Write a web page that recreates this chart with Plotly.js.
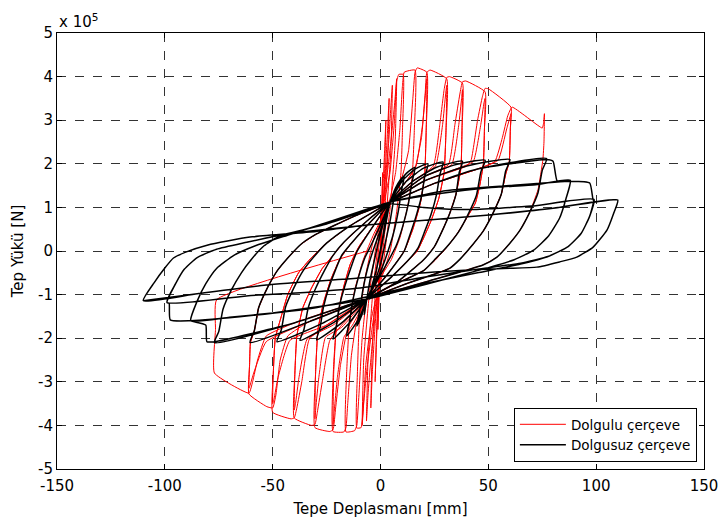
<!DOCTYPE html>
<html>
<head>
<meta charset="utf-8">
<script src="https://cdn.plot.ly/plotly-3.0.1.min.js"></script>
<style>html,body{margin:0;padding:0;background:#fff;}#chart{width:719px;height:521px;}</style>
</head>
<body>
<div id="chart"></div>
<script>
// Axis ticks
const xTickVals = [-150, -100, -50, 0, 50, 100, 150];
const xTickText = ["-150", "-100", "-50", "0", "50", "100", "150"];
const yTickVals = [-5, -4, -3, -2, -1, 0, 1, 2, 3, 4, 5];
const yTickText = ["-5", "-4", "-3", "-2", "-1", "0", "1", "2", "3", "4", "5"];

// Series names
const seriesNames = ["Dolgulu çerçeve", "Dolgusuz çerçeve"];

// Dolgulu (infilled) frame: [displacement mm, load x1e5 N]
const redPath = [
[0,0],[0.5,0.9],[1,1.8],
[0.4,0.5],[-0.4,-0.6],[-1.2,-1.8],
[-0.5,-0.6],[0.3,0.4],[1.2,1.5],[1.9,2.3],[2.5,3.0],
[1.8,1.6],[0.5,0.3],[-0.8,-0.9],[-1.8,-2.0],[-2.5,-3.0],
[-1.8,-1.8],[-0.6,-0.5],[0.6,0.5],[2,1.6],[3.2,2.7],[4,3.5],
[3.3,2.1],[1.5,0.5],[-0.5,-0.5],[-2.5,-1.7],[-3.8,-2.8],[-4.5,-3.6],
[-3.8,-2.2],[-2,-0.6],[0,0.5],[2,1.5],[3.8,2.5],[4.8,3.3],[5.5,3.8],
[4.8,2.3],[2.5,0.7],[0,-0.5],[-2.5,-1.5],[-4.5,-2.5],[-5.8,-3.3],[-6.5,-3.9],
[-5.8,-2.5],[-3.5,-0.9],[-0.5,0.4],[2.5,1.5],[5,2.6],[6.6,3.4],[7.5,3.95],
[6.8,2.5],[4.5,1.0],[1.5,-0.2],[-1.5,-1.0],[-4,-1.8],[-6.5,-2.8],[-7.8,-3.5],[-8.5,-4.0],
[-7.8,-2.5],[-5,-0.9],[-1.5,0.3],[2,1.2],[4.4,1.8],[6.5,3.0],[7.5,3.9],[8.5,4.05],[10.5,4.05],
[10.2,2.8],[9.5,1.8],[7.5,0.9],[4.5,0],[0,-0.7],[-4,-1.5],[-6.8,-2.6],[-8,-3.6],[-9,-4.05],[-11,-4.06],
[-10.7,-2.8],[-9.8,-1.6],[-7.5,-0.7],[-3,0.3],[2,0.9],[4.4,1.2],[7,1.8],[9,2.8],[10.2,3.8],[11,4.1],[16,4.15],
[15.7,2.8],[14.7,1.7],[12.5,1.0],[9,0.3],[5,-0.2],[-2,-0.75],[-6.3,-1.1],[-8.5,-2.0],[-10,-3.3],[-11,-4.0],[-12,-4.12],[-16,-4.15],
[-15.7,-2.8],[-14.5,-1.7],[-12,-0.9],[-8,-0.2],[-3,0.4],[4.4,1.12],[10,1.7],[13,2.3],[15,3.5],[16,4.1],[17,4.2],[21.5,4.1],
[21.2,2.8],[20.5,1.75],[18.5,1.1],[15,0.5],[11,0],[3,-0.55],[-6.3,-1.1],[-11,-1.6],[-13.5,-2.4],[-15.2,-3.5],[-16,-4.05],[-17,-4.15],[-22,-4.14],
[-21.7,-2.6],[-20.5,-1.75],[-18,-1.0],[-14,-0.3],[-10,0.1],[-3,0.6],[4.4,1.12],[12,1.6],[16.5,1.95],[19.5,2.9],[21,3.7],[21.5,3.95],
[21.2,2.8],[20.5,1.75],[18.5,1.1],[15,0.5],[11,0],[3,-0.55],[-6.3,-1.1],[-13,-1.7],[-17,-1.98],[-20,-2.9],[-21.5,-3.7],[-22,-3.98],
[-21.7,-2.8],[-20.5,-1.75],[-18,-1.0],[-14,-0.3],[-10,0.1],[-3,0.6],[4.4,1.12],[12,1.6],[16,1.9],[19,2.6],[20.7,3.6],[21.5,4.1],[23,4.15],[30.7,3.95],
[30.4,2.8],[29.5,1.8],[27,1.2],[23.5,0.7],[20,0.3],[17,0],[5,-0.6],[-6.3,-1.1],[-15,-1.75],[-18.5,-2.6],[-20.8,-3.6],[-22,-4.1],[-23.5,-4.14],[-30.4,-4.05],
[-30.1,-2.8],[-29,-1.8],[-26.5,-1.2],[-23,-0.65],[-19,-0.2],[-14,0.15],[-5,0.65],[4.4,1.12],[15,1.6],[25.5,1.95],[28.8,2.9],[30.2,3.6],[30.7,3.8],
[30.4,2.8],[29.5,1.8],[27,1.2],[23.5,0.7],[20,0.3],[17,0],[5,-0.6],[-6.3,-1.1],[-18,-1.75],[-25.5,-1.98],[-28.6,-2.9],[-30,-3.6],[-30.4,-3.85],
[-30.1,-2.8],[-29,-1.8],[-26.5,-1.2],[-23,-0.65],[-19,-0.2],[-14,0.15],[-5,0.65],[4.4,1.12],[15,1.6],[24.5,1.95],[27.5,2.9],[29.5,3.7],[30.7,3.98],[32,4.0],[38,3.85],
[37.8,2.8],[37.3,1.9],[35,1.3],[32,0.85],[28.5,0.45],[25,0.1],[20,-0.2],[8,-0.7],[-6.3,-1.1],[-18,-1.7],[-23.5,-2.05],[-27,-3.0],[-29.3,-3.7],[-30.4,-3.98],[-32,-4.0],[-40,-3.83],
[-39.7,-2.8],[-38.8,-1.95],[-36,-1.3],[-32,-0.85],[-27,-0.4],[-22,-0.1],[-17,0.2],[-6,0.7],[4.4,1.12],[20,1.7],[33,1.98],[36.3,2.9],[37.6,3.5],[38,3.7],
[37.8,2.8],[37.3,1.9],[35,1.3],[32,0.85],[28.5,0.45],[25,0.1],[20,-0.2],[8,-0.7],[-6.3,-1.1],[-22,-1.7],[-34,-2.02],[-37.8,-2.9],[-39.4,-3.5],[-40,-3.65],
[-39.7,-2.8],[-38.8,-1.95],[-36,-1.3],[-32,-0.85],[-27,-0.4],[-22,-0.1],[-17,0.2],[-6,0.7],[4.4,1.12],[20,1.7],[31.5,1.98],[34.5,2.9],[36.8,3.6],[38,3.88],[39.5,3.9],[48.5,3.65],
[48.2,2.8],[47.7,2.0],[46,1.5],[44,1.1],[40.5,0.8],[36,0.43],[31.5,0.13],[25.5,-0.2],[20,-0.45],[5,-0.8],[-6.3,-1.1],[-25,-1.7],[-33,-2.02],[-36.5,-3.0],[-38.8,-3.6],[-40,-3.83],[-41.5,-3.85],[-50,-3.7],
[-49.7,-2.8],[-48.8,-2.0],[-46,-1.5],[-43,-1.0],[-38,-0.5],[-32,-0.15],[-25,0.18],[-15,0.55],[4.4,1.12],[20,1.6],[36,1.9],[43,2.05],[46.5,2.9],[48,3.4],[48.5,3.5],
[48.2,2.8],[47.7,2.0],[46,1.5],[44,1.1],[40.5,0.8],[36,0.43],[31.5,0.13],[25.5,-0.2],[20,-0.45],[5,-0.8],[-6.3,-1.1],[-25,-1.7],[-42,-2.05],[-47.5,-2.9],[-49.4,-3.4],[-50,-3.5],
[-49.7,-2.8],[-48.8,-2.0],[-46,-1.5],[-43,-1.0],[-38,-0.5],[-32,-0.15],[-25,0.18],[-15,0.55],[4.4,1.12],[20,1.6],[40,1.95],[42,2.08],[45,3.0],[47.3,3.55],[48.5,3.73],[50,3.72],[60.5,3.3],
[60.2,2.8],[59.7,2.05],[58,1.75],[56,1.3],[52,0.85],[47.7,0.46],[43,0.16],[37,-0.18],[32,-0.4],[12,-0.75],[-6.3,-1.1],[-33,-1.62],[-43,-1.95],[-46.5,-2.5],[-48.5,-3.3],[-50,-3.6],[-52.7,-3.57],[-61,-3.28],
[-60.7,-2.6],[-60.3,-2.1],[-58.5,-1.83],[-56.5,-1.3],[-52.5,-0.85],[-48,-0.46],[-43,-0.16],[-37,0.15],[-30,0.38],[-12,0.8],[4.4,1.12],[25,1.55],[45,1.88],[54.5,2.08],[58.5,2.8],[60.2,3.1],[60.5,3.15],
[60.2,2.8],[59.7,2.05],[58,1.75],[56,1.3],[52,0.85],[47.7,0.46],[43,0.16],[37,-0.18],[32,-0.4],[12,-0.75],[-6.3,-1.1],[-33,-1.62],[-53,-2.08],[-58.8,-2.8],[-60.6,-3.1],[-61,-3.15],
[-60.7,-2.6],[-60.3,-2.1],[-58.5,-1.83],[-56.5,-1.3],[-52.5,-0.85],[-48,-0.46],[-43,-0.16],[-37,0.15],[-30,0.38],[-12,0.8],[4.4,1.12],[25,1.55],[45,1.88],[53,2.05],[56.5,2.6],[59,3.1],[61,3.3],[75,2.82],[75.6,2.93],[76,3.15],
[75.8,2.5],[75.3,2.1],[73,1.4],[69,0.87],[64.7,0.48],[60,0.18],[54,-0.14],[47.5,-0.32],[20,-0.72],[-6.3,-1.1],[-40,-1.65],[-53,-1.95],[-57,-2.5],[-59.3,-3.0],[-61,-3.26],[-77,-2.8],
[-76.5,-1.8],[-76,-1.12],[-6,0]
];

// Dolgusuz (bare) frame: [displacement mm, load x1e5 N]
const blackPath = [
[0,0],[2,0.6],[4.5,1.15],
[3.5,0.9],[2,0.5],[0,0],[-2,-0.45],[-4,-0.8],[-5,-1.1],
[-4,-0.85],[-2,-0.45],[0,0.05],[2,0.5],[4.4,1.12],[5.8,1.3],[7,1.45],
[6,1.15],[4.5,0.7],[2.5,0.25],[0,-0.3],[-3,-0.75],[-6.3,-1.1],[-7.5,-1.45],
[-6.5,-1.15],[-5,-0.7],[-3,-0.25],[-0.5,0.3],[2,0.75],[4.4,1.12],[7,1.45],[9,1.62],[11,1.72],
[9.8,1.4],[8.2,0.9],[6,0.4],[3.5,0],[1,-0.35],[-2,-0.7],[-6.3,-1.1],[-8.5,-1.45],[-11,-1.72],
[-9.8,-1.4],[-8.2,-0.9],[-6,-0.4],[-3.5,0],[-1,0.35],[2,0.75],[4.4,1.12],[8,1.5],[12,1.78],[16,1.92],
[14.7,1.6],[13,1.1],[10.5,0.6],[7.5,0.15],[5,-0.1],[0,-0.55],[-6.3,-1.1],[-10,-1.55],[-15.7,-1.95],
[-14.4,-1.62],[-12.7,-1.1],[-10.2,-0.6],[-7.2,-0.15],[-4.5,0.12],[0,0.6],[4.4,1.12],[10,1.6],[16,1.88],[22,2.0],
[20.5,1.7],[19,1.25],[16.5,0.8],[13.5,0.35],[11,0],[3,-0.55],[-6.3,-1.1],[-14,-1.62],[-22,-2.02],
[-20.5,-1.72],[-19,-1.25],[-16.5,-0.8],[-13.5,-0.35],[-11,-0.02],[-3,0.6],[4.4,1.12],[12,1.6],[20,1.9],[29,2.04],
[27.5,1.75],[26,1.3],[23.5,0.85],[20.5,0.45],[17.5,0.08],[14,-0.15],[5,-0.6],[-6.3,-1.1],[-18,-1.65],[-29.6,-2.04],
[-28,-1.75],[-26.5,-1.3],[-24,-0.85],[-21,-0.45],[-18,-0.1],[-14,0.15],[-5,0.65],[4.4,1.12],[15,1.6],[26,1.92],[38,2.06],
[36.5,1.8],[35,1.3],[32,0.85],[28.5,0.45],[25,0.1],[20,-0.2],[8,-0.7],[-6.3,-1.1],[-22,-1.65],[-37.3,-2.05],
[-35.5,-1.8],[-33.5,-1.3],[-30,-0.85],[-26,-0.45],[-22,-0.1],[-17,0.2],[-6,0.7],[4.4,1.12],[20,1.7],[34,1.97],[48.5,2.08],
[46.5,1.81],[44.5,1.28],[40.5,0.83],[36.2,0.44],[31.5,0.14],[25.5,-0.18],[20,-0.45],[5,-0.8],[-6.3,-1.1],[-27,-1.66],[-48,-2.08],
[-46,-1.81],[-44,-1.28],[-40,-0.83],[-35.7,-0.44],[-31,-0.14],[-25,0.18],[-15,0.55],[4.4,1.12],[20,1.6],[40,1.95],[60,2.1],
[58,1.83],[56,1.3],[52,0.85],[47.7,0.46],[43,0.16],[37,-0.18],[32,-0.4],[12,-0.75],[-6.3,-1.1],[-33,-1.62],[-60.5,-2.1],
[-58.5,-1.83],[-56.5,-1.3],[-52.5,-0.85],[-48,-0.46],[-43,-0.16],[-37,0.15],[-30,0.38],[-12,0.8],[4.4,1.12],[25,1.55],[45,1.88],[77,2.12],
[75,1.85],[73,1.33],[69,0.87],[64.7,0.48],[60,0.18],[54,-0.14],[47.5,-0.32],[20,-0.72],[-6.3,-1.1],[-40,-1.65],[-77,-2.1],
[-75,-1.85],[-73,-1.33],[-69,-0.88],[-64.5,-0.5],[-60,-0.2],[-54,0.12],[-47.5,0.32],[-20,0.7],[4.4,1.12],[25,1.55],[45,1.88],[77,2.1],[80,2.06],[82,1.6],[88,1.62],
[86,1.2],[83,0.75],[78,0.35],[71,0.02],[62,-0.2],[45,-0.45],[22,-0.75],[-6.3,-1.1],[-40,-1.65],[-77,-2.08],[-80.5,-2.08],[-81,-1.7],[-84,-1.65],[-88,-1.6],
[-85,-1.15],[-81,-0.75],[-76,-0.4],[-68,-0.1],[-58,0.12],[-42,0.38],[-22,0.7],[-5,0.98],[4.4,1.12],[25,1.3],[50,1.45],[72,1.52],[88,1.62],
[86,1.2],[83,0.75],[78,0.35],[71,0.02],[62,-0.2],[45,-0.45],[22,-0.75],[-6.3,-1.1],[-25,-1.25],[-50,-1.42],[-70,-1.52],[-88,-1.6],
[-85,-1.15],[-81,-0.75],[-76,-0.4],[-68,-0.1],[-58,0.12],[-42,0.38],[-22,0.7],[-5,0.98],[4.4,1.12],[30,1.38],[60,1.5],[88,1.6],[97,1.56],[98.6,1.17],[99,1.18],
[97,0.8],[93,0.4],[87,0.1],[78,-0.12],[65,-0.3],[45,-0.5],[20,-0.75],[-6.3,-1.05],[-30,-1.3],[-60,-1.48],[-88,-1.6],[-97.5,-1.58],[-98,-1.2],[-99,-1.18],
[-95,-0.75],[-91,-0.42],[-85,-0.15],[-76,0.04],[-62,0.2],[-45,0.38],[-25,0.62],[-8,0.9],[4.4,1.08],[20,1.0],[41,0.95],[70,1.03],[99,1.18],
[97,0.8],[93,0.4],[87,0.1],[78,-0.12],[65,-0.28],[45,-0.42],[20,-0.6],[-9.5,-0.85],[-35,-0.95],[-60,-1.02],[-99,-1.18],
[-95,-0.75],[-91,-0.42],[-85,-0.15],[-76,0.04],[-62,0.2],[-45,0.38],[-25,0.5],[-5,0.6],[35,0.76],[49,0.82],[80,0.98],[99,1.12],[110,1.17],
[108,0.85],[105,0.48],[98.6,0.09],[91,-0.14],[83,-0.25],[72.5,-0.37],[57,-0.4],[25,-0.48],[-9.5,-0.62],[-53,-0.78],[-85,-0.98],[-110,-1.14],
[-105,-0.73],[-100,-0.39],[-96,-0.16],[-90,-0.02],[-80,0.14],[-71,0.23],[-60.5,0.32],[-30,0.45],[-5,0.6],[35,0.76],[49,0.82],[80,0.98],[110,1.17],
[108,0.85],[105,0.48],[98.6,0.09],[91,-0.14],[83,-0.25],[72.5,-0.37],[57,-0.4],[25,-0.48],[-9.5,-0.62],[-53,-0.78],[-85,-0.98],[-110,-1.14]
];

const font = "DejaVu Sans, Verdana, sans-serif";

const traces = [
  {
    x: redPath.map(p => p[0]), y: redPath.map(p => p[1]),
    type: "scatter", mode: "lines", name: seriesNames[0],
    line: {color: "#ff0000", width: 1, shape: "spline", smoothing: 0.4}
  },
  {
    x: blackPath.map(p => p[0]), y: blackPath.map(p => p[1]),
    type: "scatter", mode: "lines", name: seriesNames[1],
    line: {color: "#000000", width: 1.5, shape: "spline", smoothing: 0.5}
  }
];

const axisCommon = {
  showline: true, mirror: "ticks", linecolor: "#000", linewidth: 1,
  ticks: "inside", ticklen: 5, tickcolor: "#000",
  showgrid: true, gridcolor: "#333", griddash: "dash", gridwidth: 1,
  zeroline: false, tickfont: {family: font, size: 15, color: "#000"}
};

const layout = {
  width: 719, height: 521,
  margin: {l: 57, r: 15, t: 33, b: 52},
  paper_bgcolor: "#fff", plot_bgcolor: "#fff",
  font: {family: font, size: 15, color: "#000"},
  showlegend: true,
  legend: {
    x: 0.989, y: 0.016, xanchor: "right", yanchor: "bottom",
    bgcolor: "#fff", bordercolor: "#000", borderwidth: 1,
    itemwidth: 46,
    font: {family: font, size: 13.5, color: "#000"}
  },
  xaxis: Object.assign({}, axisCommon, {
    range: [-150, 150], tickvals: xTickVals, ticktext: xTickText,
    ticklabelstandoff: 3,
    title: {text: "Tepe Deplasmanı [mm]", font: {family: font, size: 15}, standoff: 9}
  }),
  yaxis: Object.assign({}, axisCommon, {
    range: [-5, 5], tickvals: yTickVals, ticktext: yTickText,
    title: {text: "Tep Yükü [N]", font: {family: font, size: 15}, standoff: 10}
  }),
  annotations: [{
    xref: "paper", yref: "paper", x: 0, y: 1, xanchor: "left", yanchor: "bottom",
    yshift: 0, text: "x 10<sup>5</sup>", showarrow: false,
    font: {family: font, size: 15, color: "#000"}
  }]
};

Plotly.newPlot("chart", traces, layout, {staticPlot: true, displayModeBar: false});
</script>
</body>
</html>
